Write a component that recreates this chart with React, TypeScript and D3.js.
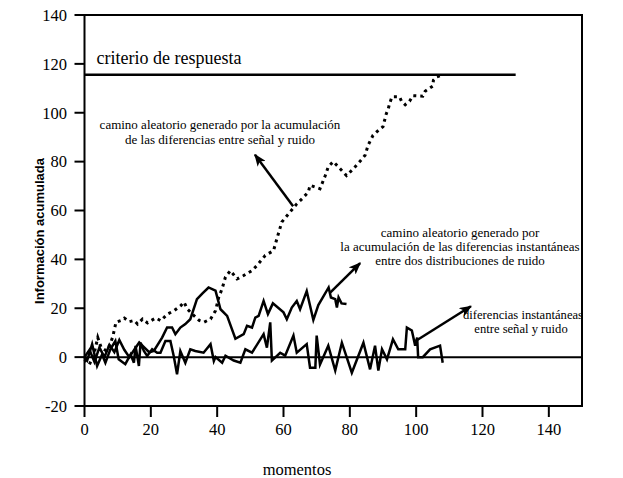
import * as d3 from 'd3'

// moments (x) and accumulated information (y)
const signalNoiseWalk: [number, number][] = [
  [0, -1], [1.5, -3], [3, 2], [4, 8], [5, 4], [6.5, 2.6], [7.5, 4.6], [8.5, 8.2], [9.5, 14.3],
  [11, 15], [12, 16], [13.5, 14.5], [15, 15], [16, 13.5], [17.5, 15.6], [19, 14], [20, 14.9],
  [21.5, 16], [23, 14.9], [25, 17.6], [27, 19], [29, 21], [30, 22.5], [31, 19.7], [33, 17],
  [34.6, 15], [36, 14.3], [38, 15.6], [39.5, 19], [40.5, 24.6], [41.5, 28], [42.5, 32.8],
  [44, 35.4], [46, 32], [48, 33.4], [50.5, 35.4], [52, 37.5], [54.5, 41.6], [57, 43.6],
  [58, 48.4], [59.5, 55.3], [62, 59.4], [64, 62.7], [65.6, 64.8], [67.5, 67.6], [68, 70.3],
  [71, 68.9], [72.6, 74.3], [73.5, 77.9], [75, 80], [76.5, 77.9], [79, 74.3], [81, 77],
  [83, 80], [84.6, 82.6], [85.5, 86.7], [87, 90.8], [88.6, 92.8], [90, 94.3], [90.5, 97],
  [91, 99.6], [91.6, 101.7], [92, 103.8], [92.7, 106.5], [95, 106.5], [95.6, 104.7],
  [96.7, 103.3], [98, 104.7], [99, 107], [102, 106.8], [102.7, 108.8], [105, 110.9],
  [105.2, 113.3], [106.2, 114.7], [107.7, 115.4]
]

const noiseNoiseWalk: [number, number][] = [
  [0, 0], [1.5, 3], [3, -2], [4.5, 4], [6, 0], [7.5, 5], [9, 2], [10.5, 7], [12, 3], [13.5, 0],
  [15, 3], [16.5, 6], [18, 4], [19.5, 2], [20.9, 2.5], [23.4, 8], [24.9, 12.1], [26.4, 12.1],
  [27.4, 9.4], [28.9, 12.1], [30.4, 13.5], [31.9, 15.5], [33.9, 23.7], [35.5, 26], [37.4, 28.5],
  [39.5, 27.2], [41, 19.6], [43, 16.9], [45.5, 7.5], [48, 9.4], [49, 12.8], [50.5, 12.1],
  [51.5, 16.2], [52.5, 16.9], [54, 23], [55.3, 17.6], [56.8, 22], [60, 18.3], [61, 15.5],
  [62.5, 20.3], [64, 23], [65, 19.6], [67, 27], [69, 15.2], [70.5, 21.3], [73.6, 28.5],
  [74.3, 24.4], [75.6, 23.7], [76.1, 20.3], [76.6, 24.4], [77.5, 22], [79, 21.7]
]

const instantDiffs: [number, number][] = [
  [0, 0], [0.8, -1.4], [2.3, 5.3], [3.8, -3.6], [5.3, 1.1], [6.3, -2.3], [7.8, 3.2], [9.3, 6.6],
  [10.3, -0.9], [12.3, -2.9], [13.9, 1.1], [14.9, -2.3], [15.4, 4.6], [16.4, -3.6], [16.9, 5.9],
  [17.9, 2.5], [18.9, 0.5], [20.4, 3.2], [21.9, 1.8], [22.9, 1.8], [24.4, 6.6], [25.9, 6.6],
  [26.9, 0.5], [27.9, -7], [28.9, 2.5], [30.4, -2.3], [31.9, 3.2], [33.4, 2.5], [35.9, 1.8],
  [38, 5.3], [39, -1.6], [39.5, 0], [41.5, -2.3], [42.5, 0.6], [45, -1.4], [47, -2.3],
  [48.5, 3.2], [50.5, 1.8], [54, 9.4], [55, 3.9], [56, 14.2], [56.5, -1.4], [59, 1.8],
  [60.5, 0.6], [63, 8.8], [64, 1.8], [67, 5.3], [68, -4.3], [69.6, -4.3], [70, 8.8], [71, -3],
  [73.5, 4.7], [75.6, -5.5], [77.6, 5.9], [80.6, -6.4], [84.1, 5.9], [86.1, -5], [87.6, 4.7],
  [88.6, -5.5], [89.7, 3.2], [91.2, -0.9], [93, 7.3], [94.6, 3.2], [96.7, 3.2], [97.2, 12.1],
  [98.7, 10.9], [99.7, 4.7], [100.3, 8], [100.6, 0], [102, 0], [104.2, 3.2], [107.2, 4.7],
  [108, -2.3]
]

const criterion = 115.5
const criterionEnd = 130
const xTicks = [0, 20, 40, 60, 80, 100, 120, 140]
const yTicks = [-20, 0, 20, 40, 60, 80, 100, 120, 140]

const serif = '"Liberation Serif", "Times New Roman", serif'

export default function App() {
  const width = 623
  const height = 478
  const x = d3.scaleLinear().domain([0, 150]).range([84.5, 582])
  const y = d3.scaleLinear().domain([-20, 140]).range([406, 15])

  const line = d3.line<[number, number]>()
    .x(d => x(d[0]))
    .y(d => y(d[1]))

  // annotation arrows in data units
  const arrows: [number, number, number, number][] = [
    [62.9, 61.7, 51.4, 82.8],
    [74.0, 26.3, 83.1, 38.5],
    [99.6, 6.4, 116.5, 20.8]
  ]

  return (
    <div style={{ position: 'absolute', left: 0, top: 0 }}>
      <svg width={width} height={height} style={{ display: 'block', background: '#fff' }}>
        <defs>
          <marker id="arr" viewBox="0 0 10 8" refX="9" refY="4" markerWidth="5" markerHeight="4"
            markerUnits="strokeWidth" orient="auto">
            <path d="M0,0 L10,4 L0,8 L2.5,4 Z" fill="#000" />
          </marker>
        </defs>

        {/* frame */}
        <rect x={x(0)} y={y(140)} width={x(150) - x(0)} height={y(-20) - y(140)}
          fill="none" stroke="#000" strokeWidth={2} />

        {/* y ticks */}
        {yTicks.map(t => (
          <g key={'y' + t}>
            <line x1={x(0) - 10} x2={x(0)} y1={y(t)} y2={y(t)} stroke="#000" strokeWidth={2} />
            <text x={67} y={y(t)} dy="0.35em" textAnchor="end" fontFamily={serif} fontSize={16.5}>{t}</text>
          </g>
        ))}

        {/* x ticks */}
        {xTicks.map(t => (
          <g key={'x' + t}>
            <line x1={x(t)} x2={x(t)} y1={y(-20)} y2={y(-20) + 11} stroke="#000" strokeWidth={2} />
            <text x={x(t)} y={435} textAnchor="middle" fontFamily={serif} fontSize={16.5}>{t}</text>
          </g>
        ))}

        <text x={297} y={475} textAnchor="middle" fontFamily={serif} fontSize={16.5}>momentos</text>
        <text transform="translate(44,231) rotate(-90)" textAnchor="middle"
          fontFamily='"Liberation Sans", Arial, sans-serif' fontWeight="bold" fontSize={13}>
          Información acumulada
        </text>

        {/* zero line and response criterion */}
        <line x1={x(0)} x2={x(150)} y1={y(0)} y2={y(0)} stroke="#000" strokeWidth={2} />
        <line x1={x(0)} x2={x(criterionEnd)} y1={y(criterion)} y2={y(criterion)} stroke="#000" strokeWidth={2.5} />
        <text x={96.5} y={64} fontFamily={serif} fontSize={18}>criterio de respuesta</text>

        {/* series */}
        <path d={line(signalNoiseWalk) ?? ''} fill="none" stroke="#000" strokeWidth={3}
          strokeDasharray="3 4" />
        <path d={line(noiseNoiseWalk) ?? ''} fill="none" stroke="#000" strokeWidth={2.5} />
        <path d={line(instantDiffs) ?? ''} fill="none" stroke="#000" strokeWidth={2.5} />

        {/* annotations */}
        {arrows.map((a, i) => (
          <line key={'a' + i} x1={x(a[0])} y1={y(a[1])} x2={x(a[2])} y2={y(a[3])}
            stroke="#000" strokeWidth={2.5} markerEnd="url(#arr)" />
        ))}
        <g fontFamily={serif} fontSize={13} textAnchor="middle">
          <text x={220} y={129}>camino aleatorio generado por la acumulación</text>
          <text x={220} y={143.5}>de las diferencias entre señal y ruido</text>
          <text x={460} y={237}>camino aleatorio generado por</text>
          <text x={460} y={251}>la acumulación de las diferencias instantáneas</text>
          <text x={460} y={265}>entre dos distribuciones de ruido</text>
        </g>
        <g fontFamily={serif} fontSize={12.6} textAnchor="middle">
          <text x={523} y={319}>diferencias instantáneas</text>
          <text x={521} y={333}>entre señal y ruido</text>
        </g>
      </svg>
    </div>
  )
}
